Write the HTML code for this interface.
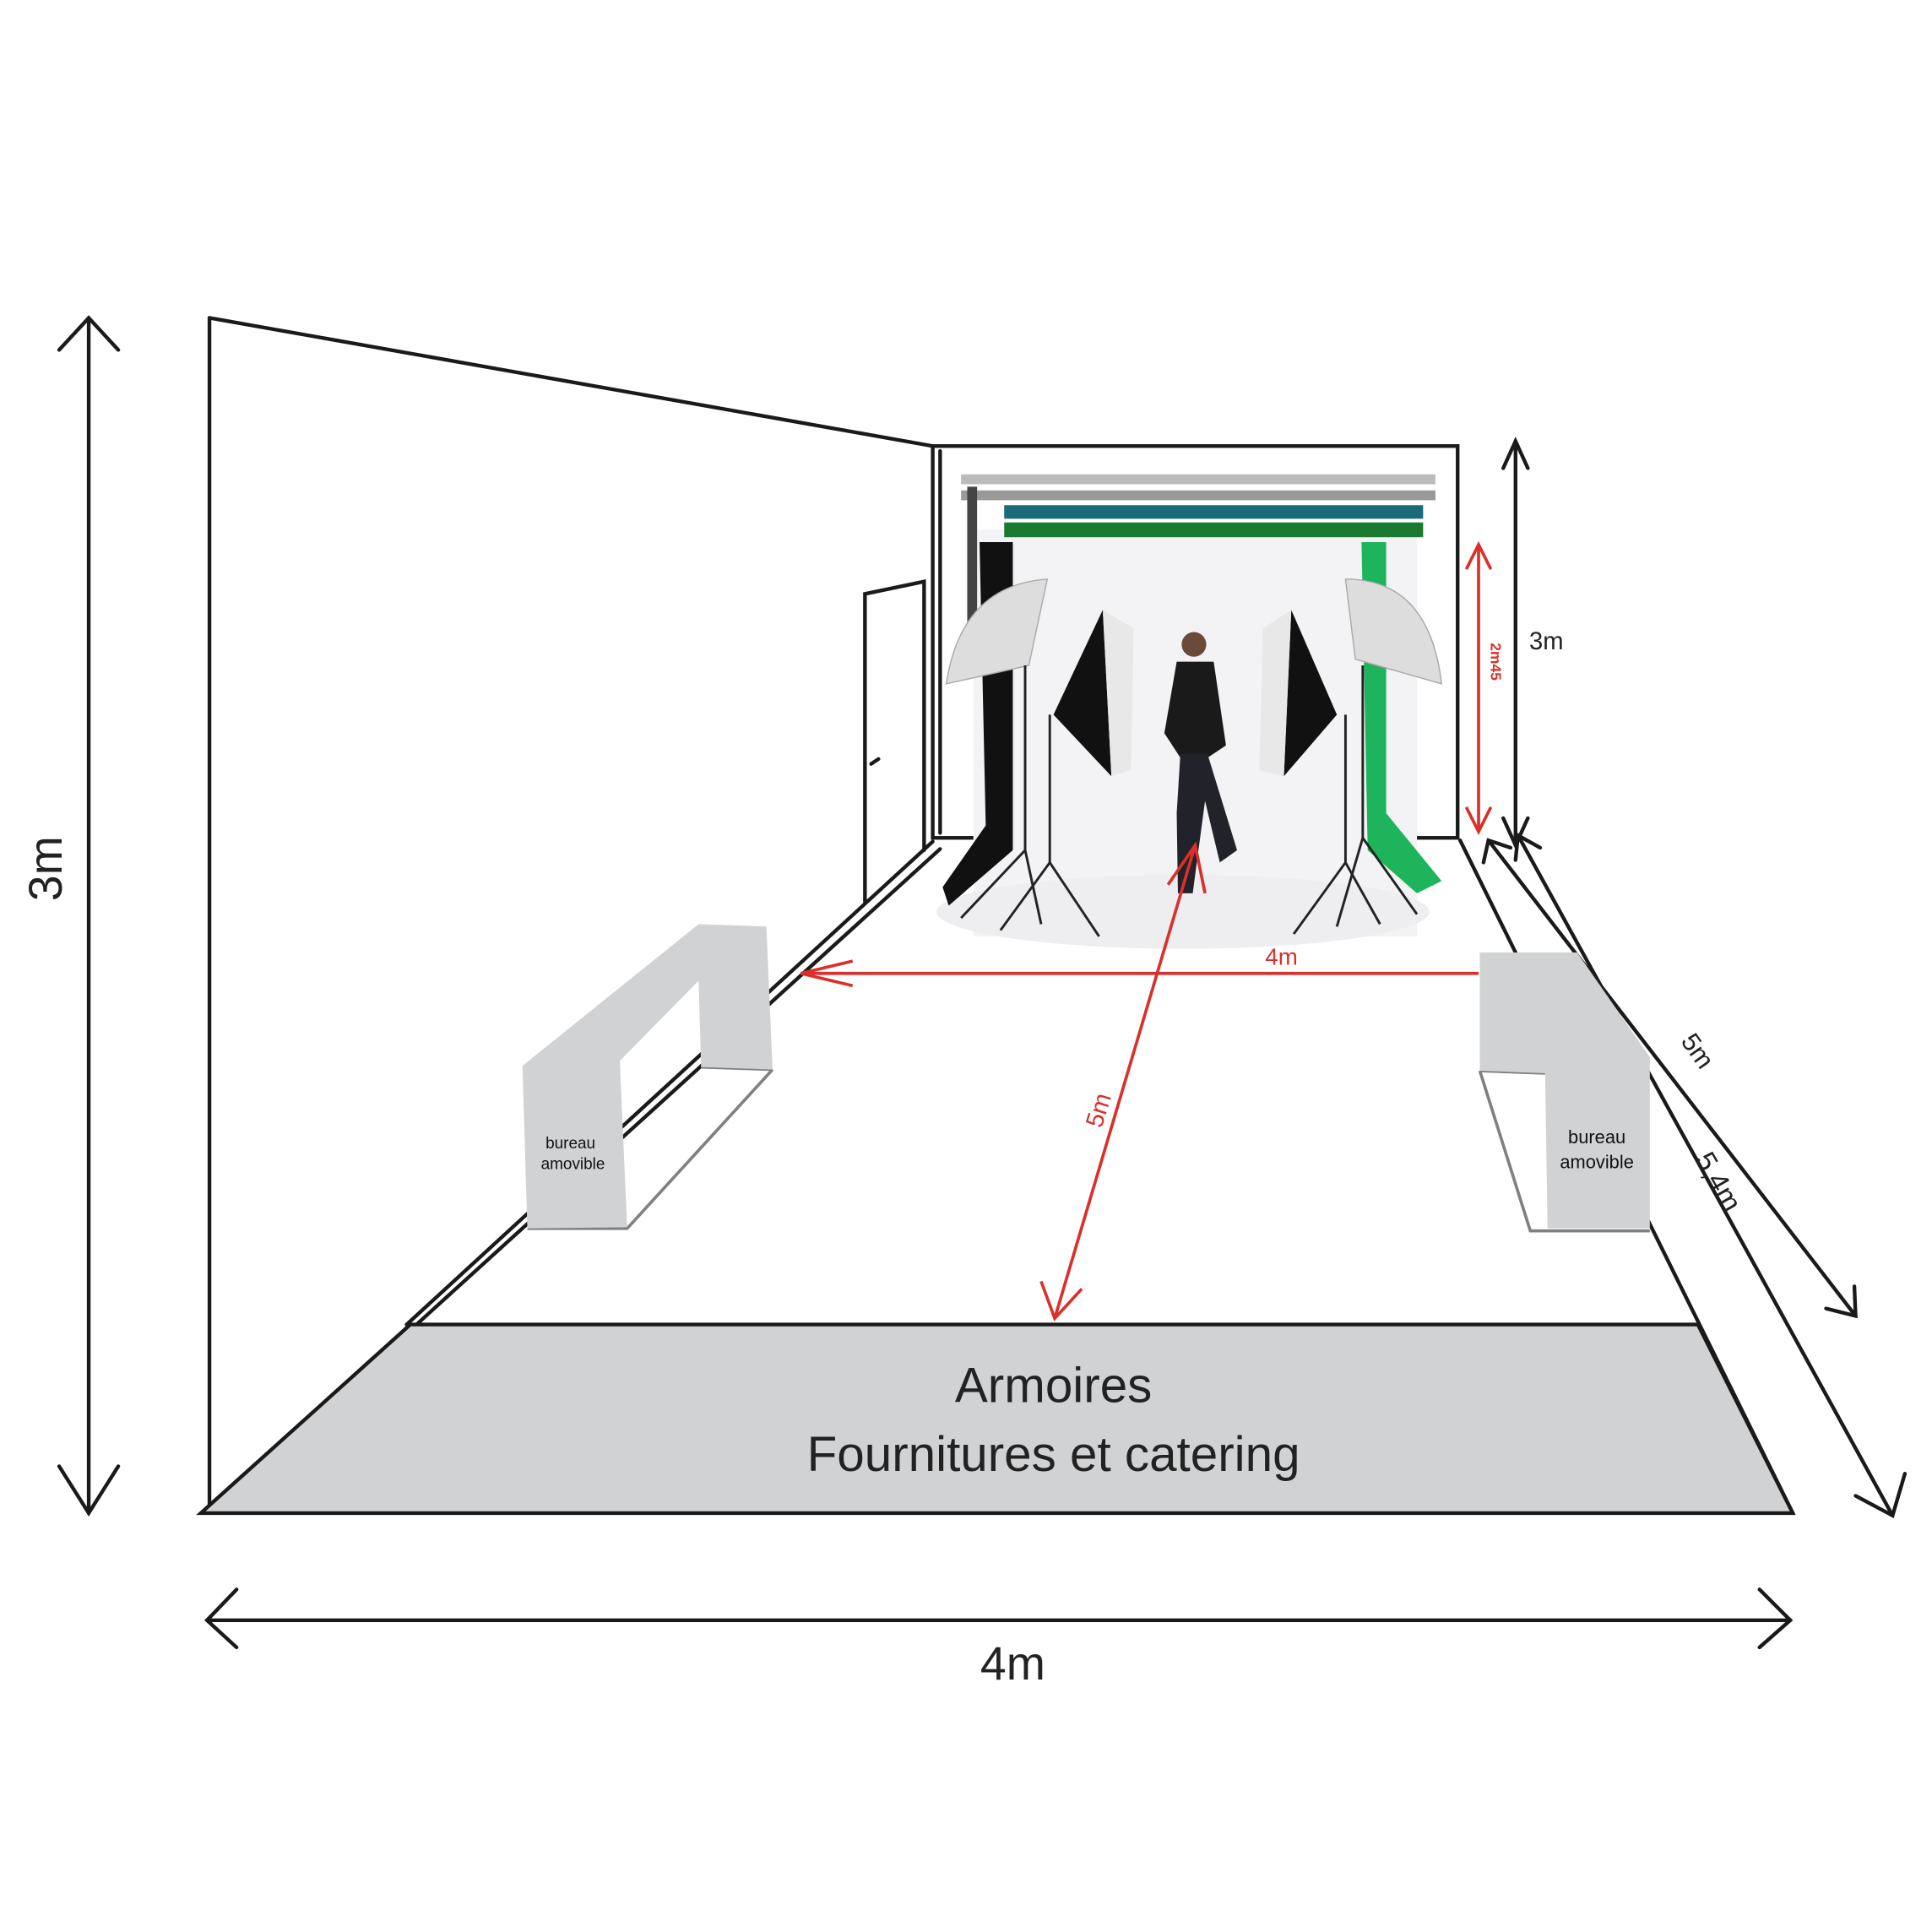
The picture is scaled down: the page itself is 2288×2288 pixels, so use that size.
<!DOCTYPE html>
<html><head><meta charset="utf-8"><style>
html,body{margin:0;padding:0;background:#fff;}
svg{display:block;}
text{font-family:"Liberation Sans",sans-serif;}
</style></head><body>
<svg width="2288" height="2288" viewBox="0 0 1568 1568" xmlns="http://www.w3.org/2000/svg">
<rect width="1568" height="1568" fill="#fff"/>
<g stroke="#1a1a1a" stroke-width="3" fill="none" stroke-linecap="round">
<line x1="72" y1="258" x2="72" y2="1228"/>
<polyline points="48,284 72,258 96,284"/>
<polyline points="48,1190 72,1228 96,1190"/>
<line x1="170" y1="258" x2="170" y2="1228"/>
<line x1="170" y1="258" x2="757" y2="362"/>
<rect x="757" y="362" width="426" height="318"/>
<line x1="763" y1="366" x2="763" y2="676"/>
<line x1="757" y1="683" x2="330" y2="1075"/>
<line x1="763" y1="689" x2="338" y2="1075"/>
<polyline points="702,732 702,482 750,472 750,690"/>
<line x1="707" y1="620" x2="713" y2="616"/>
<line x1="1185" y1="682" x2="1455" y2="1228"/>
<line x1="1230" y1="358" x2="1230" y2="686"/>
<polyline points="1220,380 1230,358 1240,380"/>
<polyline points="1220,664 1230,686 1240,664"/>
<line x1="1208" y1="682" x2="1506" y2="1068"/>
<polyline points="1204,700 1208,682 1226,688"/>
<polyline points="1482,1062 1506,1068 1505,1044"/>
<line x1="1232" y1="678" x2="1536" y2="1230"/>
<polyline points="1230,698 1232,678 1250,688"/>
<polyline points="1506,1214 1536,1230 1546,1196"/>
<line x1="168" y1="1315" x2="1453" y2="1315"/>
<polyline points="192,1290 168,1315 192,1337"/>
<polyline points="1428,1290 1453,1315 1428,1337"/>
</g>
<g>
<rect x="790" y="430" width="360" height="330" fill="#f3f3f5"/>
<ellipse cx="960" cy="740" rx="200" ry="30" fill="#eeeef0"/>
<path d="M795,440 L822,440 L822,690 L770,735 L765,720 L800,670 Z" fill="#111"/>
<path d="M1105,440 L1125,440 L1125,660 L1170,715 L1150,725 L1110,690 Z" fill="#1db45c"/>
<rect x="780" y="385" width="385" height="8" fill="#bbb"/>
<rect x="780" y="398" width="385" height="8" fill="#999"/>
<rect x="815" y="410" width="340" height="11" fill="#1a6a7a"/>
<rect x="815" y="424" width="340" height="12" fill="#1a7a30"/>
<rect x="785" y="395" width="8" height="120" fill="#444"/>
<path d="M768,555 Q780,475 850,470 L835,540 Z" fill="#ddd" stroke="#aaa"/>
<path d="M1170,555 Q1160,470 1092,470 L1100,535 Z" fill="#ddd" stroke="#aaa"/>
<path d="M855,580 L895,495 L902,630 Z" fill="#111"/>
<path d="M895,495 L920,510 L918,625 L902,630 Z" fill="#e8e8e8"/>
<path d="M1085,580 L1048,495 L1042,630 Z" fill="#111"/>
<path d="M1048,495 L1025,510 L1022,625 L1042,630 Z" fill="#e8e8e8"/>
<g stroke="#222" stroke-width="2">
<line x1="832" y1="540" x2="832" y2="690"/><line x1="832" y1="690" x2="780" y2="745"/><line x1="832" y1="690" x2="845" y2="750"/>
<line x1="852" y1="580" x2="852" y2="700"/><line x1="852" y1="700" x2="812" y2="755"/><line x1="852" y1="700" x2="892" y2="760"/>
<line x1="1106" y1="540" x2="1106" y2="680"/><line x1="1106" y1="680" x2="1085" y2="752"/><line x1="1106" y1="680" x2="1150" y2="742"/>
<line x1="1092" y1="580" x2="1092" y2="700"/><line x1="1092" y1="700" x2="1050" y2="758"/><line x1="1092" y1="700" x2="1120" y2="750"/>
</g>
<circle cx="969" cy="523" r="10" fill="#6b4a3a"/>
<path d="M955,537 L985,537 L995,605 L980,615 L958,615 L945,595 Z" fill="#1a1a1a"/>
<path d="M958,612 L980,612 L1004,690 L990,700 L978,650 L968,725 L956,725 L955,660 Z" fill="#22222a"/>
</g>
<!-- bureaus -->
<g stroke="#808080" stroke-width="2.5" fill="none">
<polyline points="428,997 509,997 627,868"/>
<line x1="569" y1="866" x2="627" y2="868"/>
<polyline points="1201,869 1242,999 1339,999"/>
<line x1="1201" y1="869" x2="1254" y2="871"/>
</g>
<polygon points="424,865 567,750 622,752 627,868 569,866 567,796 503,861 509,996 428,997" fill="#d1d2d4"/>
<polygon points="1201,773 1280,773 1339,858 1339,997 1256,997 1254,871 1201,869" fill="#d1d2d4"/>
<text x="463" y="932" font-size="13" text-anchor="middle" fill="#111">bureau</text>
<text x="465" y="949" font-size="13" text-anchor="middle" fill="#111">amovible</text>
<text x="1296" y="928" font-size="15" text-anchor="middle" fill="#111">bureau</text>
<text x="1296" y="948" font-size="15" text-anchor="middle" fill="#111">amovible</text>
<polygon points="333,1075 1378,1075 1455,1228 163,1228" fill="#d1d2d4" stroke="#1a1a1a" stroke-width="3"/>
<text x="855" y="1138" font-size="40" text-anchor="middle" fill="#222">Armoires</text>
<text x="855" y="1194" font-size="40" text-anchor="middle" fill="#222">Fournitures et catering</text>
<g stroke="#d9302a" stroke-width="2.5" fill="none">
<line x1="1200" y1="442" x2="1200" y2="675"/>
<polyline points="1190,462 1200,442 1210,462"/>
<polyline points="1190,655 1200,675 1210,655"/>
<line x1="650" y1="790" x2="1200" y2="790"/>
<polyline points="692,780 650,790 692,800"/>
<line x1="970" y1="686" x2="856" y2="1070"/>
<polyline points="948,718 970,686 978,725"/>
<polyline points="845,1040 856,1070 878,1046"/>
</g>
<text x="1210" y="537" font-size="12" fill="#d9302a" font-weight="bold" transform="rotate(90 1210 537)" text-anchor="middle">2m45</text>
<text x="1040" y="783" font-size="19" fill="#d9302a" text-anchor="middle">4m</text>
<text x="898" y="903" font-size="20" fill="#d9302a" text-anchor="middle" transform="rotate(-73 898 903)">5m</text>
<text x="50" y="705" font-size="38" fill="#222" text-anchor="middle" transform="rotate(-90 50 705)">3m</text>
<text x="1255" y="527" font-size="20" fill="#222" text-anchor="middle">3m</text>
<text x="1372" y="857" font-size="21" fill="#222" text-anchor="middle" transform="rotate(55 1372 857)">5m</text>
<text x="1388" y="963" font-size="23" fill="#222" text-anchor="middle" transform="rotate(60 1388 963)">5,4m</text>
<text x="822" y="1363" font-size="38" fill="#222" text-anchor="middle">4m</text>
</svg>
</body></html>
